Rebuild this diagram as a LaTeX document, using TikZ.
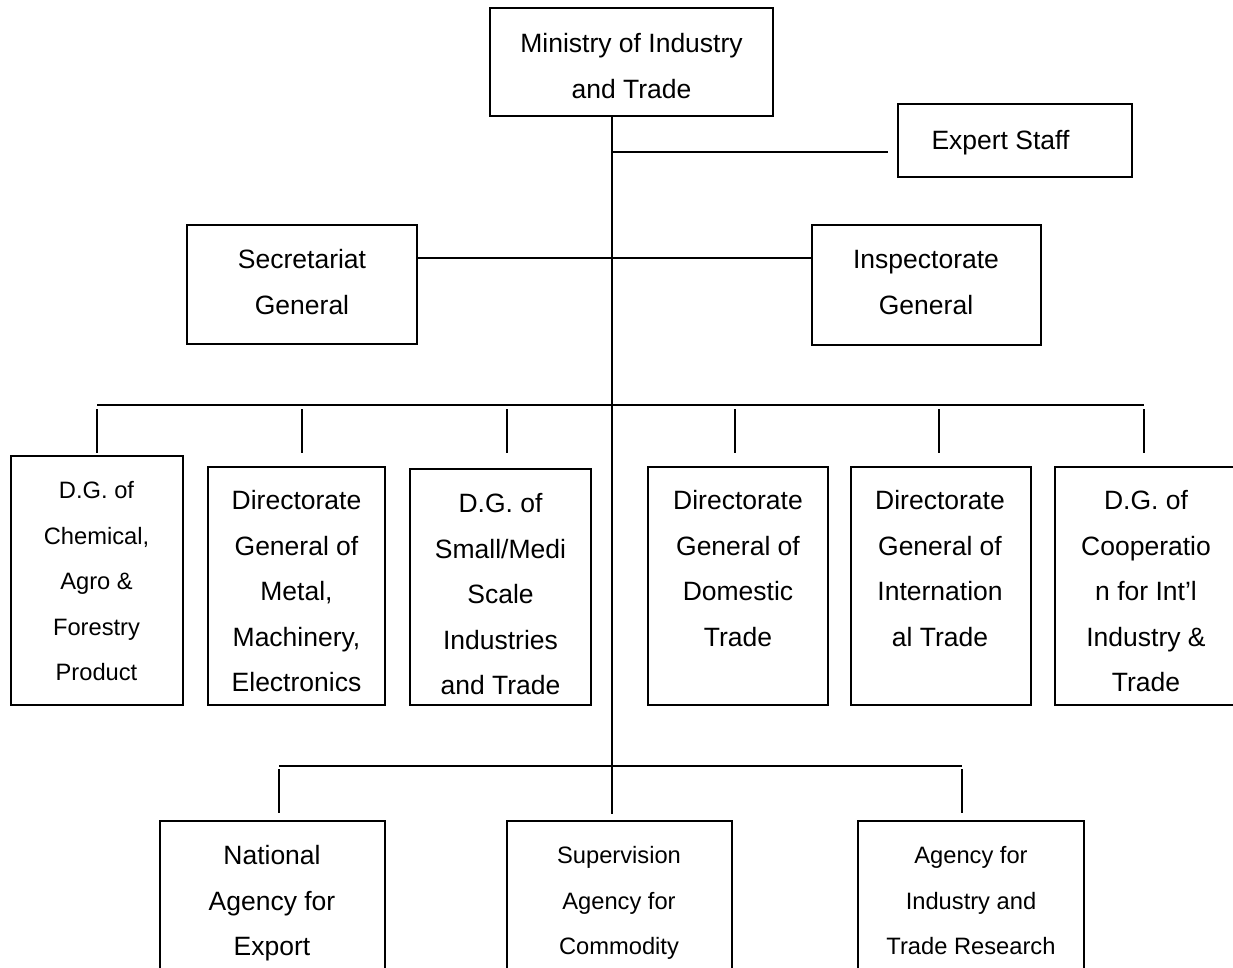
\documentclass[tikz,border=0pt]{standalone}
\usepackage{fontspec}
\setmainfont{Liberation Sans}
\begin{document}
\begin{tikzpicture}[x=1pt, y=-1pt,
  box/.style={draw, line width=1.4pt, inner sep=0pt},
  wire/.style={line width=1.4pt},
  txtL/.style={anchor=north, align=center, inner sep=0pt,
    font=\fontsize{26.5pt}{45.5pt}\selectfont},
  txtS/.style={anchor=north, align=center, inner sep=0pt,
    font=\fontsize{23.7pt}{45.5pt}\selectfont}]
\useasboundingbox (0,0) rectangle (1233,968);
\clip (0,0) rectangle (1233,968);

% --- frames ---
\node[box, minimum width=283pt, minimum height=108pt] (min) at (631.5,62) {};
\node[box, minimum width=234pt, minimum height=73pt]  (exp) at (1015,140.5) {};
\node[box, minimum width=230pt, minimum height=119pt] (sec) at (302,284.5) {};
\node[box, minimum width=229pt, minimum height=120pt] (ins) at (926.5,285) {};

\node[box, minimum width=172pt, minimum height=249pt] (b1) at (97,580.5) {};
\node[box, minimum width=177pt, minimum height=238pt] (b2) at (296.5,586) {};
\node[box, minimum width=181pt, minimum height=236pt] (b3) at (500.5,587) {};
\node[box, minimum width=180pt, minimum height=238pt] (b4) at (738,586) {};
\node[box, minimum width=180pt, minimum height=238pt] (b5) at (941,586) {};
\node[box, minimum width=184pt, minimum height=238pt] (b6) at (1147,586) {};

\node[box, minimum width=225pt, minimum height=169pt] (c1) at (272.5,905.5) {};
\node[box, minimum width=225pt, minimum height=169pt] (c2) at (619.5,905.5) {};
\node[box, minimum width=226pt, minimum height=169pt] (c3) at (971,905.5) {};

% --- labels ---
\node[txtL] (tmin) at (631.5,20.65) {\strut Ministry of Industry\\and Trade};
\node[txtL] (texp) at (1000.5,117.65) {\strut Expert Staff};
\node[txtL] (tsec) at (302,236.65) {\strut Secretariat\\General};
\node[txtL] (tins) at (926,236.65) {\strut Inspectorate\\General};

\node[txtS] (tb1) at (96.5,466.65) {\strut D.G. of\\Chemical,\\Agro \&\\Forestry\\Product};
\node[txtL] (tb2) at (296.5,477.65) {\strut Directorate\\General of\\Metal,\\Machinery,\\Electronics};
\node[txtL] (tb3) at (500.5,480.65) {\strut D.G. of\\Small/Medi\\Scale\\Industries\\and Trade};
\node[txtL] (tb4) at (738,477.65) {\strut Directorate\\General of\\Domestic\\Trade};
\node[txtL] (tb5) at (940,477.65) {\strut Directorate\\General of\\Internation\\al Trade};
\node[txtL] (tb6) at (1146,477.65) {\strut D.G. of\\Cooperatio\\n for Int’l\\Industry \&\\Trade};

\node[txtL] (tc1) at (272,832.65) {\strut National\\Agency for\\Export};
\node[txtS] (tc2) at (619,831.65) {\strut Supervision\\Agency for\\Commodity};
\node[txtS] (tc3) at (971,831.65) {\strut Agency for\\Industry and\\Trade Research};

% --- connectors ---
\coordinate (spine) at (612,814);
\coordinate (ej) at (612,152);
\coordinate (sj) at (612,258);
\draw[wire] (min.south -| spine) -- (spine);
\draw[wire] (ej) -- ([xshift=-9pt]exp.west |- ej);
\draw[wire] (sec.east |- sj) -- (ins.west |- sj);

% directorates bus
\coordinate (busL) at (97,405);
\coordinate (busR) at (1144,405);
\draw[wire] (busL) -- (busR);
\foreach \x/\n in {97/1, 302/2, 507/3, 735/4, 939/5, 1144/6} {
  \coordinate (d\n) at (\x,409);
  \draw[wire] (d\n) -- ++(0,44);
}

% agencies bus
\coordinate (aL) at (279,766);
\coordinate (aR) at (962,766);
\draw[wire] (aL) -- (aR);
\coordinate (e1) at (279,769);
\coordinate (e3) at (962,769);
\draw[wire] (e1) -- ++(0,44);
\draw[wire] (e3) -- ++(0,44);
\end{tikzpicture}
\end{document}
